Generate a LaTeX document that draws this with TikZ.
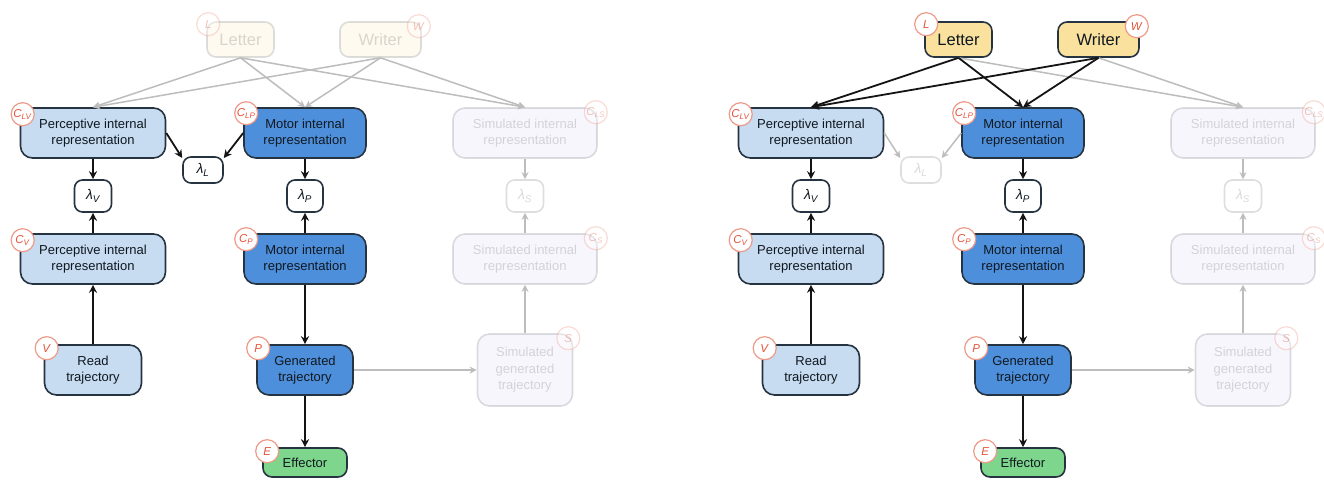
\documentclass[tikz,border=0pt]{standalone}
\usepackage{fontspec}
\setmainfont{Liberation Sans}
\usetikzlibrary{arrows.meta}
\definecolor{bord}{HTML}{263442}
\definecolor{txtdark}{HTML}{101820}
\definecolor{percfill}{HTML}{C7DBF1}
\definecolor{motfill}{HTML}{4E8FDB}
\definecolor{efffill}{HTML}{7DD68B}
\definecolor{lwfill}{HTML}{FAE29E}
\definecolor{simfill}{HTML}{D6CCF4}
\definecolor{tagred}{HTML}{E5533B}
\definecolor{tagring}{HTML}{EE9A88}
\definecolor{fadeline}{HTML}{BDBDBD}
\newcommand\lam[1]{{\itshape λ\textsubscript{#1}}}
\newcommand\tagtxt[2]{\textit{#1}\textsubscript{\textit{#2}}}
\tikzset{
  box/.style={draw=bord, line width=1.6pt, rounded corners=12pt, align=center, inner sep=0pt,
    text=txtdark, font=\fontsize{13}{16.5}\selectfont},
  percbox/.style={box, fill=percfill, minimum width=145pt, minimum height=50pt},
  motbox/.style={box, fill=motfill, minimum width=122pt, minimum height=50pt},
  effbox/.style={box, fill=efffill, rounded corners=9pt, minimum width=84pt, minimum height=29pt},
  lwbox/.style={box, fill=lwfill, rounded corners=9pt, minimum height=35pt, font=\fontsize{16.5}{18}\selectfont},
  simbox/.style={box, fill=simfill, minimum width=144pt, minimum height=50pt, fadednode},
  lambox/.style={box, fill=white, rounded corners=8pt, minimum width=37pt, minimum height=32pt,
    font=\fontsize{14}{14}\selectfont},
  fadednode/.style={opacity=0.16},
  fadedtag/.style={opacity=0.35},
  nofade/.style={},
  tagc/.style={circle, draw=tagring, line width=1.2pt, fill=white, minimum size=23pt, inner sep=0pt,
    text=tagred, font=\fontsize{11.5}{11.5}\selectfont},
  blackarrow/.style={draw=black!92, line width=1.8pt, -{Stealth[length=8pt,width=8pt]}},
  grayarrow/.style={draw=fadeline, line width=1.5pt, -{Stealth[length=7pt,width=7pt]}},
}
% #1 prefix, #2 xshift, #3 Letter/Writer node style, #4 Letter/Writer arrow style,
% #5 lambda_L node style, #6 lambda_L arrow style, #7 Letter/Writer tag style
\newcommand\drawpanel[7]{%
\begin{scope}[xshift=#2pt]
  \node[lwbox,#3,minimum width=67pt] (#1L) at (240.5,39.5) {Letter};
  \node[lwbox,#3,minimum width=81pt] (#1W) at (380.5,39.5) {Writer};
  \node[percbox] (#1CLV) at (93,133) {Perceptive internal\\representation};
  \node[motbox] (#1CLP) at (305,133) {Motor internal\\representation};
  \node[lambox,#5,minimum width=40pt,minimum height=26pt] (#1lamL) at (203,170) {\lam{L}};
  \node[lambox] (#1lamV) at (93,196) {\lam{V}};
  \node[lambox,minimum width=36pt] (#1lamP) at (305,196) {\lam{P}};
  \node[percbox] (#1CV) at (93,259) {Perceptive internal\\representation};
  \node[motbox] (#1CP) at (305,259) {Motor internal\\representation};
  \node[percbox,minimum width=97pt] (#1V) at (93,370) {Read\\trajectory};
  \node[motbox,minimum width=96pt] (#1P) at (305,370) {Generated\\trajectory};
  \node[effbox] (#1E) at (305,462.5) {Effector};
  \node[simbox] (#1CLS) at (525,133) {Simulated internal\\representation};
  \node[lambox,fadednode] (#1lamS) at (525,196) {\lam{S}};
  \node[simbox] (#1CS) at (525,259) {Simulated internal\\representation};
  \node[simbox,minimum width=95pt,minimum height=72pt] (#1S) at (525,370) {Simulated\\generated\\trajectory};
  % tags
  \node[tagc,#7] (#1tL) at ([shift={(2,3)}]#1L.north west) {\textit{L}};
  \node[tagc,#7] (#1tW) at ([shift={(-3,5)}]#1W.north east) {\textit{W}};
  \node[tagc] (#1tCLV) at ([shift={(3,7)}]#1CLV.north west) {\tagtxt{C}{LV}};
  \node[tagc] (#1tCLP) at ([shift={(3,6)}]#1CLP.north west) {\tagtxt{C}{LP}};
  \node[tagc] (#1tCV) at ([shift={(3,7)}]#1CV.north west) {\tagtxt{C}{V}};
  \node[tagc] (#1tCP) at ([shift={(3,6)}]#1CP.north west) {\tagtxt{C}{P}};
  \node[tagc] (#1tV) at ([shift={(3,4)}]#1V.north west) {\textit{V}};
  \node[tagc] (#1tP) at ([shift={(2,4)}]#1P.north west) {\textit{P}};
  \node[tagc] (#1tE) at ([shift={(5,4)}]#1E.north west) {\textit{E}};
  \node[tagc,fadedtag] (#1tCLS) at ([shift={(-2,5)}]#1CLS.north east) {\tagtxt{C}{LS}};
  \node[tagc,fadedtag] (#1tCS) at ([shift={(-2,5)}]#1CS.north east) {\tagtxt{C}{S}};
  \node[tagc,fadedtag] (#1tS) at ([shift={(-5,5)}]#1S.north east) {\textit{S}};
  % connectors (gray first)
  \draw[grayarrow] (#1L.south) -- (#1CLS.north);
  \draw[grayarrow] (#1W.south) -- (#1CLS.north);
  \draw[grayarrow] (#1P.east) -- (#1S.west);
  \draw[grayarrow] (#1S.north) -- (#1CS.south);
  \draw[grayarrow] (#1CS.north) -- (#1lamS.south);
  \draw[grayarrow] (#1CLS.south) -- (#1lamS.north);
  \draw[#6] (#1CLV.east) -- (#1lamL.150);
  \draw[#6] (#1CLP.west) -- (#1lamL.30);
  \draw[#4] (#1L.south) -- (#1CLV.north);
  \draw[#4] (#1L.south) -- (#1CLP.north);
  \draw[#4] (#1W.south) -- (#1CLV.north);
  \draw[#4] (#1W.south) -- (#1CLP.north);
  \draw[blackarrow] (#1CLV.south) -- (#1lamV.north);
  \draw[blackarrow] (#1CV.north) -- (#1lamV.south);
  \draw[blackarrow] (#1CLP.south) -- (#1lamP.north);
  \draw[blackarrow] (#1CP.north) -- (#1lamP.south);
  \draw[blackarrow] (#1V.north) -- (#1CV.south);
  \draw[blackarrow] (#1CP.south) -- (#1P.north);
  \draw[blackarrow] (#1P.south) -- (#1E.north);
\end{scope}}
\begin{document}
\begin{tikzpicture}[x=1pt,y=-1pt]
  \useasboundingbox[fill=white] (0,0) rectangle (1324,480);
  \drawpanel{a}{0}{fadednode}{grayarrow}{nofade}{blackarrow}{fadedtag}
  \drawpanel{b}{718}{nofade}{blackarrow}{fadednode}{grayarrow}{nofade}
\end{tikzpicture}
\end{document}
